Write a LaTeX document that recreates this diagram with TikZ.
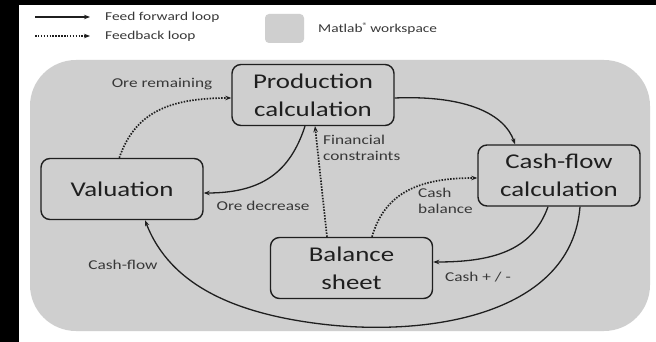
\documentclass[tikz,border=0pt]{standalone}
\usepackage{fontspec}
\setmainfont{Carlito}[FakeStretch=1.28]
\usetikzlibrary{arrows.meta}
\definecolor{ws}{gray}{0.81}
\definecolor{ink}{gray}{0.12}
\definecolor{lab}{gray}{0.22}
\tikzset{
  procbox/.style={draw=ink, line width=1.4pt, rounded corners=9pt, fill=ws,
    minimum width=162pt, minimum height=61pt, align=center, text=ink,
    font=\fontsize{21}{28}\selectfont},
  lbl/.style={text=lab, font=\fontsize{13.5}{16}\selectfont, inner sep=0pt},
  leg/.style={text=lab, font=\fontsize{12}{14}\selectfont, inner sep=0pt, anchor=west},
  ffw/.style={draw=ink, line width=1.3pt, -{Stealth[length=6pt,width=4.5pt]}},
  fbk/.style={draw=ink, line width=1.7pt, dash pattern=on 1.5pt off 1.4pt, -{Stealth[length=6pt,width=4.5pt]}}
}
\begin{document}
\begin{tikzpicture}[x=1pt,y=-1pt]
\useasboundingbox (0,0) rectangle (656,342);
\fill[white] (0,0) rectangle (656,342);
\fill[black] (0,0) rectangle (19,342);
\fill[black] (0,0) rectangle (656,5);
% workspace
\fill[ws, rounded corners=46pt] (30,60) rectangle (650,331);
% legend
\coordinate (l1a) at (35,17); \coordinate (l1b) at (90,17);
\coordinate (l2a) at (35,36); \coordinate (l2b) at (90,36);
\draw[ffw] (l1a) -- (l1b);
\draw[fbk] (l2a) -- (l2b);
\node[leg] (t1) at (105,17) {Feed forward loop};
\node[leg] (t2) at (105,36) {Feedback loop};
\fill[ws, rounded corners=4pt] (265,14) rectangle (304,43);
\node[leg] (t3) at (318,29) {Matlab\textsuperscript{®}\,workspace};
% boxes
\node[procbox] (prod) at (313,95) {Production\\calculation};
\node[procbox] (val) at (122,189) {Valuation};
\node[procbox] (cash) at (559,175.5) {Cash-flow\\calculation};
\node[procbox] (bal) at (351.5,268) {Balance\\sheet};
% connectors
\draw[fbk] (val.north west) ++(79,0) coordinate (v1)
  (v1) .. controls (135,112) and (170,98) .. (prod.west |- 0,98);
\node[lbl] (orrem) at (162,84) {Ore remaining};
\draw[ffw] (prod.east |- 0,98) .. controls (468,95) and (505,115) .. (cash.north -| 515,0);
\draw[ffw] (prod.south -| 305,0) .. controls (290,172) and (262,193) .. (val.east |- 0,193);
\node[lbl] (ordec) at (263,206) {Ore decrease};
\draw[fbk] (bal.north -| 327,0) -- (prod.south -| 315,0);
\node[lbl, align=left, anchor=north west] (fin) at (323,135) {Financial\\constraints};
\draw[fbk] (bal.north -| 372,0) .. controls (385,192) and (420,178) .. (cash.west |- 0,178);
\node[lbl, align=left, anchor=north west] (cbal) at (418,188) {Cash\\balance};
\draw[ffw] (cash.south -| 548,0) .. controls (532,252) and (490,262) .. (bal.east |- 0,262);
\node[lbl] (cpm) at (478,277) {Cash + / -};
\draw[ffw] (cash.south -| 580,0) .. controls (572,310) and (440,336) .. (330,325)
  .. controls (235,315) and (170,285) .. (val.south -| 145,0);
\node[lbl] (cfl) at (123,265) {Cash-flow};
\end{tikzpicture}
\end{document}
